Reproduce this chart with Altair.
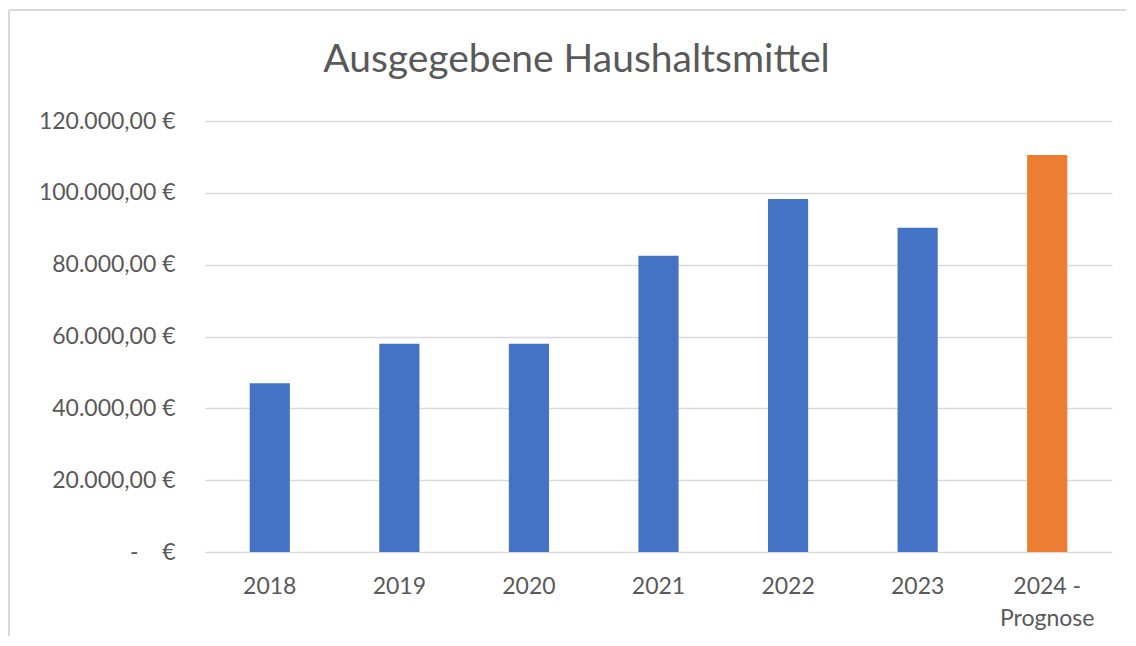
import altair as alt
import pandas as pd

years = ["2018", "2019", "2020", "2021", "2022", "2023", "2024 -\nPrognose"]
values = [47000, 58000, 58000, 82500, 98300, 90300, 110500]
kinds = ["Ist", "Ist", "Ist", "Ist", "Ist", "Ist", "Prognose"]
y_ticks = [0, 20000, 40000, 60000, 80000, 100000, 120000]

df = pd.DataFrame({"Jahr": years, "Betrag": values, "Art": kinds})

W, H = 907, 431
FONT = "Lato"
TXT = "#595959"
GRID = "#d9d9d9"

nb = "\u00a0"
y_label_expr = (
    f"datum.value == 0 ? '-{nb}{nb}{nb}{nb}€' : "
    "replace(replace(replace(format(datum.value, ',.2f'), ',', 'X'), '.', ','), 'X', '.') + ' €'"
)

bars = alt.Chart(df).mark_bar().encode(
    x=alt.X(
        "Jahr:N",
        sort=years,
        scale=alt.Scale(paddingInner=0.69, paddingOuter=0.345),
        axis=alt.Axis(
            title=None,
            labelAngle=0,
            labelExpr="split(datum.label, '\\n')",
            labelFont=FONT,
            labelFontSize=23,
            labelColor=TXT,
            labelPadding=23,
            labelLineHeight=32,
            ticks=False,
            domain=False,
            grid=False,
        ),
    ),
    y=alt.Y(
        "Betrag:Q",
        scale=alt.Scale(domain=[0, 120000]),
        axis=alt.Axis(
            title=None,
            values=y_ticks,
            labelExpr=y_label_expr,
            labelFont=FONT,
            labelFontSize=23,
            labelColor=TXT,
            labelPadding=30,
            ticks=False,
            domain=False,
            grid=True,
            gridColor=GRID,
            gridWidth=1.5,
        ),
    ),
    color=alt.Color(
        "Art:N",
        scale=alt.Scale(domain=["Ist", "Prognose"], range=["#4472C4", "#ED7D31"]),
        legend=None,
    ),
)

frame_data = alt.Data(values=[{}])
left_line = alt.Chart(frame_data).mark_rule(color=GRID, strokeWidth=2).encode(
    x=alt.value(-196), y=alt.value(-111), y2=alt.value(H + 120)
)
top_line = alt.Chart(frame_data).mark_rule(color=GRID, strokeWidth=2).encode(
    x=alt.value(-196), x2=alt.value(W + 40), y=alt.value(-111)
)

chart = alt.layer(left_line, top_line, bars).properties(
    width=W,
    height=H,
    autosize=alt.AutoSizeParams(type="none"),
    padding={"left": 197, "top": 113, "right": 14, "bottom": 84},
    title=alt.TitleParams(
        text="Ausgegebene Haushaltsmittel",
        font=FONT,
        fontSize=39,
        fontWeight="normal",
        color=TXT,
        anchor="middle",
        baseline="alphabetic",
        dx=-82,
        offset=-102,
    ),
).configure_view(stroke=None)

chart.save("out.html", embed_options={"renderer": "svg", "actions": False})
